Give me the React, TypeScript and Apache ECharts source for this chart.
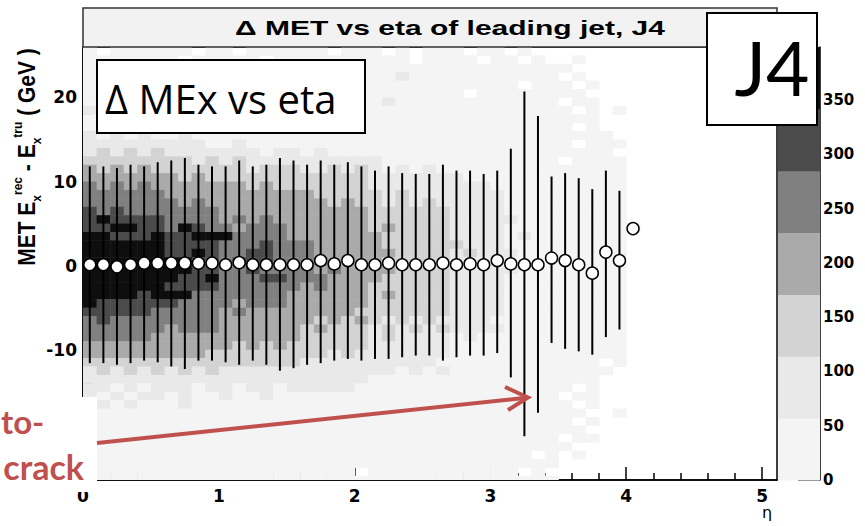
import React, { useEffect, useRef } from 'react';
import * as echarts from 'echarts';

// ---- Profile (TProfile) points: eta bin centres, mean and spread ends ----
const etaCenters = [0.05,0.15,0.25,0.35,0.45,0.55,0.65,0.75,0.85,0.95,1.05,1.15,1.25,1.35,1.45,1.55,1.65,1.75,1.85,1.95,2.05,2.15,2.25,2.35,2.45,2.55,2.65,2.75,2.85,2.95,3.05,3.15,3.25,3.35,3.45,3.55,3.65,3.75,3.85,3.95,4.05];
const profileMean = [0.1,0.1,-0.15,0.1,0.3,0.3,0.3,0.3,0.3,0.3,0.1,0.35,0.1,0.1,0.1,0.1,0.1,0.6,0.2,0.6,0.1,0.1,0.3,0.1,0.1,0.1,0.3,0.1,0.2,0.1,0.6,0.2,0.1,0.1,0.9,0.6,0.1,-0.9,1.6,0.6,4.4];
const errHigh = [11.8,11.8,11.6,12.0,11.8,12.3,12.5,12.8,12.0,11.8,11.8,12.5,11.8,12.0,12.8,12.5,12.0,12.5,12.0,12.3,11.8,11.3,11.8,11.0,10.9,10.9,12.0,11.3,11.3,10.9,11.3,13.9,20.7,17.8,10.6,11.0,10.4,9.1,11.3,8.9,null];
const errLow = [-11.6,-11.6,-11.8,-11.6,-11.3,-11.5,-12.0,-12.3,-11.3,-11.3,-11.5,-11.8,-11.3,-11.8,-12.5,-12.2,-11.8,-11.6,-11.3,-11.1,-11.3,-11.1,-11.1,-10.9,-10.7,-10.7,-11.3,-10.9,-10.7,-10.7,-10.4,-13.3,-20.3,-17.5,-9.2,-9.9,-10.2,-10.6,-8.5,-7.6,null];

// ---- 2D histogram: bin edges and colour level per cell ('.' = empty) ----
const heatEtaEdges = [0,0.1,0.2,0.3,0.4,0.5,0.6,0.7,0.8,0.9,1.0,1.1,1.2,1.3,1.4,1.5,1.6,1.7,1.8,1.9,2.0,2.1,2.2,2.3,2.4,2.5,2.6,2.7,2.8,2.9,3.0,3.1,3.2,3.3,3.4,3.5,3.6,3.7,3.8,3.9,4.0,4.1];
const heatYLow = [25,24,23,22,21,20,19,18,17,16,15,14,13,12,11,10,9,8,7,6,5,4,3,2,1,0,-1,-2,-3,-4,-5,-6,-7,-8,-9,-10,-11,-12,-13,-14,-15,-16,-17,-18,-19,-20,-21,-22,-23,-24,-25,-26];
const heatRows = [
  "0.0000 00.0 0.0000 00.00 0.0.00 0.00 .0.. ... .. .",
  "000000 0.00 000.00 00000 000.00 00.0 0.0. .0. .. .",
  "000000 0000 000000 00000 000000 0000 0000 0.. .. .",
  "000000 0000 000100 00000 001000 0000 0000 .0. .. .",
  "000000 0000 000000 00000 000000 0000 0.00 0.0 .. .",
  "010000 0000 000000 00000 000000 0.00 0000 00. .. .",
  "000000 0000 000000 00000 010000 0000 0000 .00 .. .",
  "100000 0000 000000 00000 000000 0000 0000 0.0 .0 .",
  "000000 0000 000000 00000 000000 0000 0000 000 .. .",
  "010100 0000 000000 00000 000000 0000 0000 0.0 .. .",
  "101010 0100 000000 00000 000000 0000 0000 000 0. .",
  "111111 1110 010000 00000 000000 0000 0000 0.0 00 .",
  "121212 1111 111011 01000 000000 0000 0000 000 0. .",
  "222222 2212 121111 11111 100000 0000 0000 .00 00 .",
  "323232 2222 221222 11212 101010 0000 0000 000 00 .",
  "333333 3232 222222 22222 111111 1000 0000 000 00 .",
  "434343 3333 332322 22222 111111 1110 0000 000 00 .",
  "444444 3333 333333 32222 212111 1111 0000 000 00 .",
  "444444 4343 333333 33232 212121 1111 0000 000 00 .",
  "545444 4444 333333 33333 222222 1111 0000 000 00 .",
  "565555 4444 343433 33333 222222 1111 1000 000 00 .",
  "556655 4654 434443 33333 232222 1111 0000 000 00 0",
  "665556 5566 644443 33333 322222 1111 0100 000 00 .",
  "666666 5555 444544 43333 322222 2111 0000 000 00 .",
  "666666 5565 445544 43333 332222 1211 1000 000 00 .",
  "666666 6655 455544 44333 322222 1111 0000 000 00 .",
  "666666 6655 445444 43433 332222 1111 1000 000 00 .",
  "666666 6556 444554 44333 322222 1111 0000 000 00 .",
  "666666 5555 444444 34333 222222 1111 0000 000 00 .",
  "666656 6644 444443 33333 232222 1111 0000 000 00 .",
  "655555 5444 434443 33333 222222 1111 0000 000 00 .",
  "555554 4444 343333 33332 222222 1111 0000 000 00 .",
  "454444 4444 333333 32323 212121 1110 0000 000 00 .",
  "444444 3444 333333 23222 121212 1111 0000 000 00 .",
  "444443 3333 333333 22222 121111 0100 0000 000 00 .",
  "333333 3333 323232 22222 111111 0000 0000 000 00 .",
  "333333 3332 222222 22121 111111 0000 0000 000 00 .",
  "222222 2222 222222 11111 111110 0000 0000 000 .0 .",
  "121212 1212 111111 11111 110101 0000 0000 000 0. .",
  "111111 1111 111111 11111 000000 0000 0000 000 .. .",
  "110101 1101 101101 11110 000000 0000 0000 0.0 .. .",
  "101011 0100 100100 00000 000000 0000 0000 .00 .. .",
  "010100 0100 000000 00000 000000 0000 0000 0.0 .. .",
  "000000 0000 000000 00000 000000 0000 0000 00. .0 .",
  "000000 0000 000000 00000 000000 0000 0000 0.0 .. .",
  "000000 0000 000000 00000 000000 0000 0000 00. .. .",
  "000000 0000 000000 00000 000000 0000 0000 .00 .. .",
  "000000 0000 000000 00000 000000 0000 0000 0.. .. .",
  "000000 0000 000000 00000 000000 0000 00.0 .0. .. .",
  "000000 0000 000000 00000 000000 0000 0000 ... .. .",
  "000000 0000 000000 0000. 000000 0000 0.0. ... .. .",
  "000000 0000 000000 00000 000000 0000 0000 ... .. .",
];

// ---- Colour palette (contour levels of the z axis) ----
const levelColors = ['#f4f4f4', '#e9e9e9', '#d3d3d3', '#aaaaaa', '#808080', '#4b4b4b', '#0e0e0e'];
const colorbarEdges = [0, 57, 114, 171, 228, 285, 342, 399];

// ---- Tick values ----
const xMajorTicks = [0, 1, 2, 3, 4, 5];
const xMinorTicks = [0.2,0.4,0.6,0.8,1.2,1.4,1.6,1.8,2.2,2.4,2.6,2.8,3.2,3.4,3.6,3.8,4.2,4.4,4.6,4.8];
const yMajorTicks = [-20, -10, 0, 10, 20];
const yMinorTicks = [-24,-22,-18,-16,-14,-12,-8,-6,-4,-2,2,4,6,8,12,14,16,18,22,24];
const colorbarTicks = [0, 50, 100, 150, 200, 250, 300, 350];

const TITLE = 'Δ MET vs eta of leading jet, J4';

export default function App() {
  const ref = useRef<HTMLDivElement>(null);

  useEffect(() => {
    if (!ref.current) return;
    const chart = echarts.init(ref.current, null, { renderer: 'svg' });

    const cells: number[][] = [];
    heatRows.forEach((row, r) => {
      const s = row.replace(/ /g, '');
      for (let c = 0; c < s.length; c++) {
        const ch = s[c];
        if (ch === '.') continue;
        cells.push([heatEtaEdges[c], heatEtaEdges[c + 1], heatYLow[r], heatYLow[r] + 1, Number(ch)]);
      }
    });

    const bars: number[][] = [];
    etaCenters.forEach((e, i) => {
      if (errHigh[i] != null && errLow[i] != null) bars.push([e, errLow[i] as number, errHigh[i] as number]);
    });
    const points = etaCenters.map((e, i) => [e, profileMean[i]]);

    const bands: number[][] = [];
    for (let i = 0; i < colorbarEdges.length - 1; i++) bands.push([colorbarEdges[i], colorbarEdges[i + 1], i]);

    const axisLabelFont = { fontFamily: 'DejaVu Sans', fontWeight: 'bold' as const, color: '#000' };
    const black = { color: '#000', width: 1.5 };

    const option: any = {
      animation: false,
      backgroundColor: '#ffffff',
      grid: [
        { left: 83, right: 88, top: 47, bottom: 46, show: true, borderColor: '#000', borderWidth: 1.5, backgroundColor: 'transparent' },
        { left: 778, right: 45, top: 47, bottom: 46, show: false },
      ],
      xAxis: [
        {
          gridIndex: 0, type: 'value', min: 0, max: 5.11, position: 'bottom',
          axisLine: { show: true, onZero: false, lineStyle: black },
          axisTick: { show: true, inside: true, length: 13, customValues: xMajorTicks, lineStyle: black },
          axisLabel: { show: true, customValues: xMajorTicks, fontSize: 17, margin: 7, ...axisLabelFont },
          splitLine: { show: false },
        },
        {
          gridIndex: 0, type: 'value', min: 0, max: 5.11, position: 'bottom',
          axisLine: { show: false, onZero: false },
          axisTick: { show: true, inside: true, length: 7, customValues: xMinorTicks, lineStyle: black },
          axisLabel: { show: false },
          splitLine: { show: false },
        },
        { gridIndex: 1, type: 'value', min: 0, max: 1, show: false },
      ],
      yAxis: [
        {
          gridIndex: 0, type: 'value', min: -25.5, max: 26, position: 'left',
          axisLine: { show: true, onZero: false, lineStyle: black },
          axisTick: { show: true, inside: true, length: 21, customValues: yMajorTicks, lineStyle: black },
          axisLabel: { show: true, customValues: yMajorTicks, fontSize: 17, margin: 6, ...axisLabelFont },
          splitLine: { show: false },
        },
        {
          gridIndex: 0, type: 'value', min: -25.5, max: 26, position: 'left',
          axisLine: { show: false, onZero: false },
          axisTick: { show: true, inside: true, length: 10, customValues: yMinorTicks, lineStyle: black },
          axisLabel: { show: false },
          splitLine: { show: false },
        },
        {
          gridIndex: 1, type: 'value', min: 0, max: 399, position: 'right',
          axisLine: { show: true, onZero: false, lineStyle: black },
          axisTick: { show: true, inside: true, length: 22, customValues: colorbarTicks, lineStyle: black },
          axisLabel: { show: true, customValues: colorbarTicks, fontSize: 15, margin: 3, ...axisLabelFont },
          splitLine: { show: false },
        },
      ],
      series: [
        {
          type: 'custom', name: 'hist2d', xAxisIndex: 0, yAxisIndex: 0, z: 1, silent: true,
          encode: { x: [0, 1], y: [2, 3] },
          data: cells,
          renderItem: (params: any, api: any) => {
            const p0 = api.coord([api.value(0), api.value(3)]);
            const p1 = api.coord([api.value(1), api.value(2)]);
            const cs = params.coordSys;
            const rect = echarts.graphic.clipRectByRect(
              { x: p0[0], y: p0[1], width: p1[0] - p0[0] + 0.5, height: p1[1] - p0[1] + 0.5 },
              { x: cs.x, y: cs.y, width: cs.width, height: cs.height }
            );
            if (!rect) return null;
            return { type: 'rect', shape: rect, style: { fill: levelColors[api.value(4)] } };
          },
        },
        {
          type: 'custom', name: 'spread', xAxisIndex: 0, yAxisIndex: 0, z: 3, silent: true,
          encode: { x: 0, y: [1, 2] },
          data: bars,
          renderItem: (_params: any, api: any) => {
            const a = api.coord([api.value(0), api.value(2)]);
            const b = api.coord([api.value(0), api.value(1)]);
            return { type: 'line', shape: { x1: a[0], y1: a[1], x2: b[0], y2: b[1] }, style: { stroke: '#000', lineWidth: 2 } };
          },
        },
        {
          type: 'scatter', name: 'mean', xAxisIndex: 0, yAxisIndex: 0, z: 4, silent: true,
          symbol: 'circle', symbolSize: 12,
          itemStyle: { color: '#ffffff', borderColor: '#000', borderWidth: 1.5, opacity: 1 },
          data: points,
        },
        {
          type: 'custom', name: 'palette', xAxisIndex: 2, yAxisIndex: 2, z: 1, silent: true,
          encode: { y: [0, 1] },
          data: bands,
          renderItem: (_params: any, api: any) => {
            const p0 = api.coord([0, api.value(1)]);
            const p1 = api.coord([1, api.value(0)]);
            return { type: 'rect', shape: { x: p0[0], y: p0[1], width: p1[0] - p0[0], height: p1[1] - p0[1] + 0.5 }, style: { fill: levelColors[api.value(2)] } };
          },
        },
      ],
      graphic: [
        { type: 'rect', z: 100, shape: { x: 83, y: 8, width: 694, height: 39 }, style: { fill: '#f2f2f2', stroke: '#333', lineWidth: 1.5 } },
        { type: 'text', z: 101, x: 450, y: 28, scaleX: 1.5, style: { text: TITLE, fontFamily: 'Liberation Sans', fontWeight: 'bold', fontSize: 20, fill: '#000', align: 'center', verticalAlign: 'middle' } },
        {
          type: 'text', z: 101, x: 27, y: 157, rotation: Math.PI / 2, scaleY: 1.1,
          style: {
            text: '{b|MET E}{s|x}{p|rec}{b| - E}{s|x}{p|tru}{b| ( GeV )}',
            align: 'center', verticalAlign: 'middle',
            rich: {
              b: { fontFamily: 'Liberation Sans', fontWeight: 'bold', fontSize: 21, lineHeight: 29, fill: '#000' },
              s: { fontFamily: 'Liberation Sans', fontWeight: 'bold', fontSize: 12, lineHeight: 13, verticalAlign: 'bottom', fill: '#000' },
              p: { fontFamily: 'Liberation Sans', fontWeight: 'bold', fontSize: 12, lineHeight: 13, verticalAlign: 'top', fill: '#000' },
            },
          },
        },
        { type: 'text', z: 101, x: 767, y: 512, style: { text: 'η', fontFamily: 'DejaVu Sans', fontSize: 16, fill: '#000', align: 'center', verticalAlign: 'middle' } },
        { type: 'rect', z: 110, shape: { x: 97, y: 60, width: 268, height: 73 }, style: { fill: '#ffffff', stroke: '#000', lineWidth: 2 } },
        { type: 'text', z: 111, x: 105, y: 98, style: { text: 'Δ MEx vs eta', fontFamily: 'Open Sans', fontSize: 40, fill: '#000', align: 'left', verticalAlign: 'middle' } },
        { type: 'rect', z: 110, shape: { x: 707, y: 13, width: 110, height: 112 }, style: { fill: '#ffffff', stroke: '#000', lineWidth: 2 } },
        { type: 'text', z: 111, x: 772, y: 67, style: { text: 'J4', fontFamily: 'Lato', fontSize: 75, fill: '#000', align: 'center', verticalAlign: 'middle' } },
        { type: 'rect', z: 110, shape: { x: -1, y: 397, width: 98, height: 95 }, style: { fill: '#ffffff' } },
        { type: 'text', z: 111, x: 1, y: 421, style: { text: 'to-', fontFamily: 'Lato', fontWeight: 'bold', fontSize: 33, fill: '#c0504d', align: 'left', verticalAlign: 'middle' } },
        { type: 'text', z: 111, x: 84, y: 466, style: { text: 'crack', fontFamily: 'Lato', fontWeight: 'bold', fontSize: 34, fill: '#c0504d', align: 'right', verticalAlign: 'middle' } },
        { type: 'line', z: 112, shape: { x1: 97, y1: 443, x2: 524, y2: 398 }, style: { stroke: '#c0504d', lineWidth: 4 } },
        { type: 'polyline', z: 112, shape: { points: [[505, 387], [528, 397.5], [508, 410]] }, style: { stroke: '#c0504d', lineWidth: 4, fill: null, lineJoin: 'miter' } },
      ],
    };

    chart.setOption(option);
    return () => chart.dispose();
  }, []);

  return <div ref={ref} style={{ position: 'absolute', left: 0, top: 0, width: 865, height: 526 }} />;
}
